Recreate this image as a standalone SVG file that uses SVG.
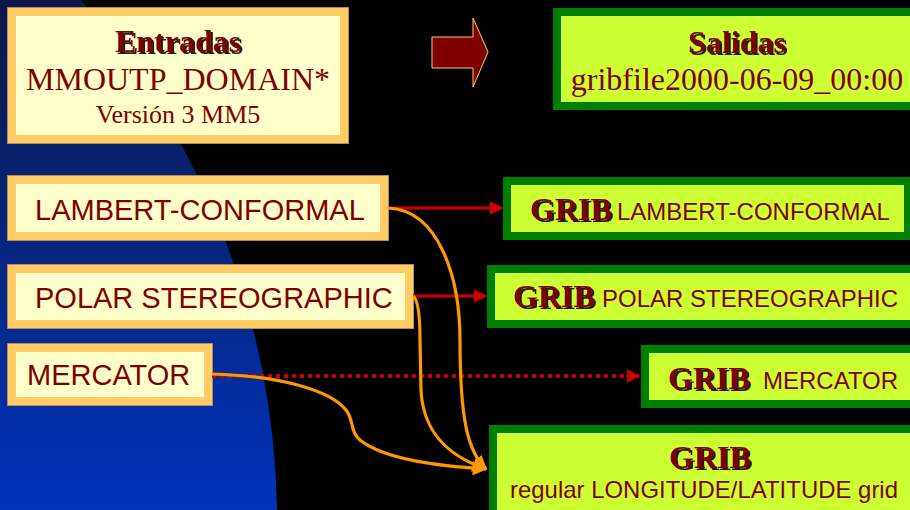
<svg xmlns="http://www.w3.org/2000/svg" width="910" height="510" viewBox="0 0 910 510">
<style>
.ibox{fill:#ffffcc;stroke:#ffcc66;stroke-width:8}
.iout{fill:none;stroke:#b09060;stroke-width:1}
.gbox{fill:#ccff33;stroke:#008000;stroke-width:8}
.serif{font-family:"Liberation Serif","Times New Roman",serif;fill:#800000}
.sans{font-family:"Liberation Sans",Arial,sans-serif;fill:#800000}
.bold{font-weight:bold;filter:url(#shadow)}
.red{fill:none;stroke:#cc0000;stroke-width:3}
.dot{fill:none;stroke:#cc0000;stroke-width:4;stroke-dasharray:4 4}
.org{fill:none;stroke:#ff9900;stroke-width:3.2}
</style>
<defs>
<linearGradient id="bg" x1="0" y1="0" x2="0" y2="1">
<stop offset="0" stop-color="#0b1848"/>
<stop offset="1" stop-color="#0033bb"/>
</linearGradient>
<filter id="shadow" x="-10%" y="-20%" width="130%" height="150%">
<feDropShadow dx="2" dy="2" stdDeviation="0" flood-color="#1a1a1a" flood-opacity="1"/>
</filter>
<marker id="ar" viewBox="0 0 10 10" refX="9" refY="5" markerWidth="4.5" markerHeight="4.5" orient="auto" markerUnits="strokeWidth">
<path d="M0,0 L10,5 L0,10 Z" fill="#cc0000"/>
</marker>
<marker id="ard" viewBox="0 0 10 10" refX="9" refY="5" markerWidth="3.4" markerHeight="3.4" orient="auto" markerUnits="strokeWidth">
<path d="M0,0 L10,5 L0,10 Z" fill="#cc0000"/>
</marker>
<marker id="ao" viewBox="0 0 10 10" refX="9" refY="5" markerWidth="4.6" markerHeight="4.6" orient="auto" markerUnits="strokeWidth">
<path d="M0,0 L10,5 L0,10 Z" fill="#ff9900"/>
</marker>
</defs>
<rect width="910" height="510" fill="#000"/>
<path d="M0,0 H81 A795 795 0 0 1 277,510 H0 Z" fill="url(#bg)"/>

<g id="entradas">
<rect class="ibox" x="12" y="12" width="332" height="127"/>
<rect class="iout" x="7.5" y="7.5" width="341" height="136"/>
<text class="serif bold" x="178" y="52" font-size="32" text-anchor="middle">Entradas</text>
<text class="serif" x="178" y="90" font-size="32" text-anchor="middle">MMOUTP_DOMAIN*</text>
<text class="serif" x="178" y="123" font-size="26" text-anchor="middle">Versión 3 MM5</text>
</g>

<g id="bigarrow">
<path d="M432,37 H473 V18 L488,52 L473,87 V68 H432 Z" fill="#800000" stroke="#ffcc66" stroke-width="1"/>
</g>

<g id="salidas">
<rect class="gbox" x="557" y="12" width="360" height="94"/>
<text class="serif bold" x="737" y="53" font-size="32" text-anchor="middle">Salidas</text>
<text class="serif" x="737" y="90" font-size="32" text-anchor="middle">gribfile2000-06-09_00:00</text>
</g>

<g id="in-lambert">
<rect class="ibox" x="12" y="180" width="372" height="56"/>
<rect class="iout" x="7.5" y="175.5" width="381" height="65"/>
<text class="sans" x="35" y="220" font-size="29">LAMBERT-CONFORMAL</text>
</g>
<g id="in-polar">
<rect class="ibox" x="12" y="269" width="397" height="55"/>
<rect class="iout" x="7.5" y="264.5" width="406" height="64"/>
<text class="sans" x="35" y="308" font-size="29">POLAR STEREOGRAPHIC</text>
</g>
<g id="in-mercator">
<rect class="ibox" x="12" y="348" width="196" height="53"/>
<rect class="iout" x="7.5" y="343.5" width="205" height="62"/>
<text class="sans" x="27" y="385" font-size="29">MERCATOR</text>
</g>

<g id="out-lambert">
<rect class="gbox" x="507" y="181" width="401" height="55"/>
<text class="serif bold" x="530" y="220" font-size="32">GRIB</text>
<text class="sans" x="617" y="220" font-size="24">LAMBERT-CONFORMAL</text>
</g>
<g id="out-polar">
<rect class="gbox" x="491" y="269" width="430" height="55"/>
<text class="serif bold" x="513" y="307" font-size="32">GRIB</text>
<text class="sans" x="602" y="307" font-size="24">POLAR STEREOGRAPHIC</text>
</g>
<g id="out-mercator">
<rect class="gbox" x="645" y="349" width="280" height="55"/>
<text class="serif bold" x="668" y="389" font-size="32">GRIB</text>
<text class="sans" x="763" y="389" font-size="24">MERCATOR</text>
</g>
<g id="out-latlon">
<rect class="gbox" x="493" y="429" width="430" height="100"/>
<text class="serif bold" x="710" y="468" font-size="32" text-anchor="middle">GRIB</text>
<text class="sans" x="704" y="498" font-size="24" text-anchor="middle" textLength="388" lengthAdjust="spacingAndGlyphs">regular LONGITUDE/LATITUDE grid</text>
</g>

<g id="connectors">
<path class="red" d="M388,208 H502" marker-end="url(#ar)"/>
<path class="red" d="M413,296 H486" marker-end="url(#ar)"/>
<path class="dot" d="M212,376 H639" marker-end="url(#ard)"/>
<path class="org" d="M388,208 C440,210 460,280 460,340 C460,420 468,452 486,469" marker-end="url(#ao)"/>
<path class="org" d="M413,296 C419,300 420,320 420,340 L421,390 C423,430 445,455 486,469" marker-end="url(#ao)"/>
<path class="org" d="M212,374 C280,376 330,390 346,410 C354,420 350,432 360,440 C385,460 440,466 486,469" marker-end="url(#ao)"/>
</g>
</svg>
